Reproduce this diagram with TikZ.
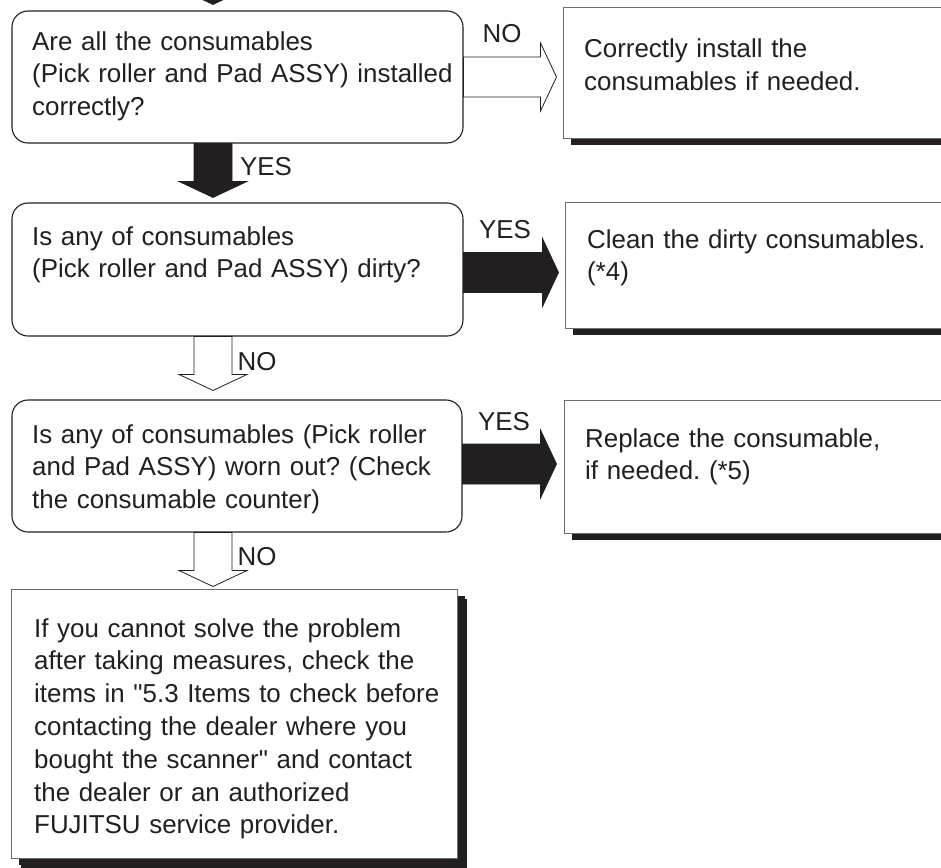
\documentclass[tikz,border=0pt]{standalone}
\usepackage{fontspec}
\setmainfont{Liberation Sans}
\usetikzlibrary{positioning,calc,shadows}
\definecolor{tinta}{HTML}{231F20}
\definecolor{borde}{HTML}{6D6E71}
\frenchspacing

\begin{document}
\begin{tikzpicture}[
  x=1pt, y=-1pt,
  font=\fontsize{25.9}{32.8}\selectfont, text=tinta,
  pregunta/.style={draw=tinta, line width=1.1pt, rounded corners=16pt, fill=white},
  accion/.style={draw=borde, line width=1pt, fill=white,
    drop shadow={shadow xshift=8pt, shadow yshift=-7pt, fill=tinta, opacity=1}},
  texto/.style={anchor=base west, inner sep=0pt, text width=440pt, align=left},
  etiq/.style={inner sep=0pt},
  hueca/.style={draw=tinta, line width=0.8pt, fill=white},
  llena/.style={draw=tinta, line width=0.8pt, fill=tinta},
  bajar/.style={to path={
    ($(\tikztostart)+(-19,0)$) -- ($(\tikztotarget)+(-19,-16)$) -- ($(\tikztotarget)+(-34,-16)$)
    -- (\tikztotarget) -- ($(\tikztotarget)+(34,-16)$) -- ($(\tikztotarget)+(19,-16)$)
    -- ($(\tikztostart)+(19,0)$) -- cycle}},
  derecha/.style={to path={
    ($(\tikztostart)+(0,-20)$) -- ($(\tikztotarget)+(-16,-20)$) -- ($(\tikztotarget)+(-16,-34)$)
    -- (\tikztotarget) -- ($(\tikztotarget)+(-16,34)$) -- ($(\tikztotarget)+(-16,20)$)
    -- ($(\tikztostart)+(0,20)$) -- cycle}}
]
  \useasboundingbox (0,0) rectangle (941,867);
  \clip (0,0) rectangle (941,867);

  % --- preguntas (columna izquierda)
  \node[pregunta, minimum width=451pt, minimum height=132pt] (q1) at (237.5,77) {};
  \node[texto] (tq1) at (32,50)
    {Are all the consumables\\(Pick roller and Pad ASSY) installed\\correctly?};
  \node[pregunta, minimum width=451pt, minimum height=133pt] (q3) at (237.5,269.5) {};
  \node[texto] (tq3) at (32,245)
    {Is any of consumables\\(Pick roller and Pad ASSY) dirty?};
  \node[pregunta, minimum width=450pt, minimum height=132pt] (q5) at (237,466) {};
  \node[texto] (tq5) at (32,443)
    {Is any of consumables (Pick roller\\and Pad ASSY) worn out? (Check\\the consumable counter)};

  % --- acciones (columna derecha, cortadas por el borde)
  \node[accion, minimum width=420pt, minimum height=130pt] (a1) at (773,73) {};
  \node[texto, text width=400pt] (ta1) at (584,58)
    {Correctly install the\\consumables if needed.};
  \node[accion, minimum width=420pt, minimum height=126pt] (a2) at (775,265) {};
  \node[texto, text width=400pt] (ta2) at (587,248)
    {Clean the dirty consumables.\\(*4)};
  \node[accion, minimum width=420pt, minimum height=133pt] (a3) at (774,466.5) {};
  \node[texto, text width=400pt] (ta3) at (585,447)
    {Replace the consumable,\\if needed. (*5)};

  % --- caja final
  \node[accion, drop shadow={shadow xshift=10pt, shadow yshift=-10pt, fill=tinta, opacity=1},
        minimum width=446pt, minimum height=269pt] (fin) at (234,723.5) {};
  \node[texto] (tfin) at (34,637)
    {If you cannot solve the problem\\after taking measures, check the\\items in \textquotedbl 5.3 Items to check before\\contacting the dealer where you\\bought the scanner\textquotedbl\ and contact\\the dealer or an authorized\\FUJITSU service provider.};

  % --- puntos de las flechas
  \coordinate (s0) at (213,-40);
  \coordinate (e0) at ($(q1.north)+(-24.5,-6)$);
  \coordinate (s1) at ($(q1.south)+(-24.5,0)$);
  \coordinate (e1) at ($(q3.north)+(-24.5,-5)$);
  \coordinate (s2) at ($(q3.south)+(-24.5,0)$);
  \coordinate (e2) at ($(q5.north)+(-24,-9)$);
  \coordinate (s3) at ($(q5.south)+(-24,0)$);
  \coordinate (e3) at ($(fin.north)+(-21,-2)$);
  \coordinate (h1s) at (q1.east);
  \coordinate (h1e) at ($(h1s -| a1.west)+(-6,0)$);
  \coordinate (h2s) at ($(q3.east)+(0,3)$);
  \coordinate (h2e) at ($(h2s -| a2.west)+(-6,0)$);
  \coordinate (h3s) at ($(q5.east)+(0,-2)$);
  \coordinate (h3e) at ($(h3s -| a3.west)+(-7,0)$);

  % --- flechas
  \path[llena] (s0) to[bajar] (e0);
  \path[llena] (s1) to[bajar] (e1);
  \path[hueca] (s2) to[bajar] (e2);
  \path[hueca] (s3) to[bajar] (e3);
  \path[hueca] (h1s) to[derecha] (h1e);
  \path[llena] (h2s) to[derecha] (h2e);
  \path[llena] (h3s) to[derecha] (h3e);

  % --- etiquetas
  \node[etiq] (lno1) at (502,34) {NO};
  \node[etiq] (lsi1) at (266,167) {YES};
  \node[etiq] (lsi2) at (505,230) {YES};
  \node[etiq] (lno2) at (257,362) {NO};
  \node[etiq] (lsi3) at (504,422) {YES};
  \node[etiq] (lno3) at (257,557) {NO};
\end{tikzpicture}
\end{document}
